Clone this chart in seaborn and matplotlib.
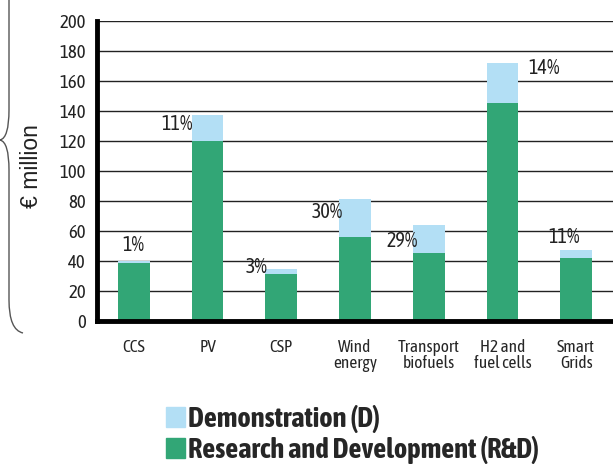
import numpy as np
import pandas as pd
import matplotlib
matplotlib.use("Agg")
import matplotlib.pyplot as plt
import matplotlib.font_manager as fm
import seaborn as sns
from collections import defaultdict
from matplotlib.path import Path
from matplotlib.patches import PathPatch, Patch

categories = ['CCS', 'PV', 'CSP', 'Wind\nenergy', 'Transport\nbiofuels',
              'H2 and\nfuel cells', 'Smart\nGrids']
rd_values = [38.5, 120, 31, 56, 45.5, 145.5, 42]
demo_values = [1.5, 17, 3.5, 25, 18.5, 26, 5]
demo_share = ['1%', '11%', '3%', '30%', '29%', '14%', '11%']
y_ticks = list(range(0, 201, 20))

light = '#B3DFF5'
green = '#32A676'

sns.set_style('white')

# the original uses a condensed grotesque; take a narrow family that has a bold
weights = defaultdict(set)
for f in fm.fontManager.ttflist:
    w = f.weight if isinstance(f.weight, int) else (700 if 'bold' in str(f.weight) else 400)
    weights[f.name].add(w)
skip = ['Light', 'Thin', 'Medium', 'Black', 'Extra', 'Semi', 'Ultra']
narrow = sorted(n for n in weights
                if ('Narrow' in n or 'Condensed' in n) and not any(s in n for s in skip))
with_bold = [n for n in narrow if max(weights[n]) >= 700]
if with_bold:
    base = with_bold[0]
elif narrow:
    base = narrow[0]
else:
    base = 'Liberation Sans'
plt.rcParams['font.family'] = [base, 'DejaVu Sans']

df = pd.DataFrame({'category': categories, 'rd': rd_values, 'demo': demo_values})
df['total'] = df['rd'] + df['demo']

fig = plt.figure(figsize=(6.13, 4.66), dpi=100)
ax = fig.add_axes([97 / 613, 1 - 321 / 466, 1 - 97 / 613, (321 - 20.7) / 466])

sns.barplot(data=df, x='category', y='total', color=light, saturation=1,
            width=0.43, ax=ax, zorder=3, linewidth=0)
sns.barplot(data=df, x='category', y='rd', color=green, saturation=1,
            width=0.43, ax=ax, zorder=4, linewidth=0)

ax.set_xlim(-0.5, 6.5)
ax.set_ylim(0, 200)
ax.set_yticks(y_ticks)
ax.yaxis.grid(True, color='#222222', lw=1)
ax.set_axisbelow(True)
for s in ['top', 'right']:
    ax.spines[s].set_visible(False)
for s in ['left', 'bottom']:
    ax.spines[s].set_linewidth(3.5)
    ax.spines[s].set_color('black')
    ax.spines[s].set_zorder(10)

ax.set_xticks(range(len(categories)))
ax.set_xticklabels(categories, fontsize=12.5, linespacing=0.9)
ax.tick_params(axis='x', which='major', length=0, pad=13)
ax.set_xticks(np.arange(-0.5, 6, 1), minor=True)
ax.tick_params(axis='x', which='minor', length=6, width=3, direction='out')
ax.tick_params(axis='y', length=6, width=2.2, direction='out', labelsize=13.5, pad=2,
               labelcolor='#222222')
ax.set_xlabel('')
ax.set_ylabel('€ million', fontsize=16.5, color='#222222', family='Liberation Sans')
ax.yaxis.set_label_coords(-0.105, 0.516)

# share of demonstration, placed next to each bar
label_style = [(0.0, 4, 'center', 'bottom'), (-0.2, 1, 'right', 'top'),
               (-0.18, 1.5, 'right', 'center'), (-0.16, -2, 'right', 'top'),
               (-0.15, -4, 'right', 'top'), (0.35, -3, 'left', 'center'),
               (-0.16, 2, 'center', 'bottom')]
for i, (txt, (dx, dy, ha, va)) in enumerate(zip(demo_share, label_style)):
    ax.text(i + dx, df['total'][i] + dy, txt, ha=ha, va=va, fontsize=14.5,
            color='#222222', zorder=5)

# brace on the left
W, H = 613, 466
verts = [(9, 0), (9, 110), (9, 138), (0, 140), (9, 142), (9, 170),
         (9, 300), (9, 330), (23, 333)]
codes = [Path.MOVETO, Path.LINETO, Path.CURVE3, Path.CURVE3, Path.CURVE3,
         Path.CURVE3, Path.LINETO, Path.CURVE3, Path.CURVE3]
verts = [(x / W, 1 - y / H) for x, y in verts]
fig.patches.append(PathPatch(Path(verts, codes), transform=fig.transFigure,
                             fill=False, edgecolor='#555555', lw=1))

handles = [Patch(color=light, label='Demonstration (D)'),
           Patch(color=green, label='Research and Development (R&D)')]
fig.legend(handles=handles, loc='upper left', bbox_to_anchor=(166 / W, 1 - 405 / H),
           frameon=False, borderpad=0, borderaxespad=0, handlelength=0.68,
           handleheight=0.7, handletextpad=0.1, labelspacing=0.1,
           prop={'weight': 'bold', 'size': 20.5})

fig.savefig('out.png', dpi=100)
